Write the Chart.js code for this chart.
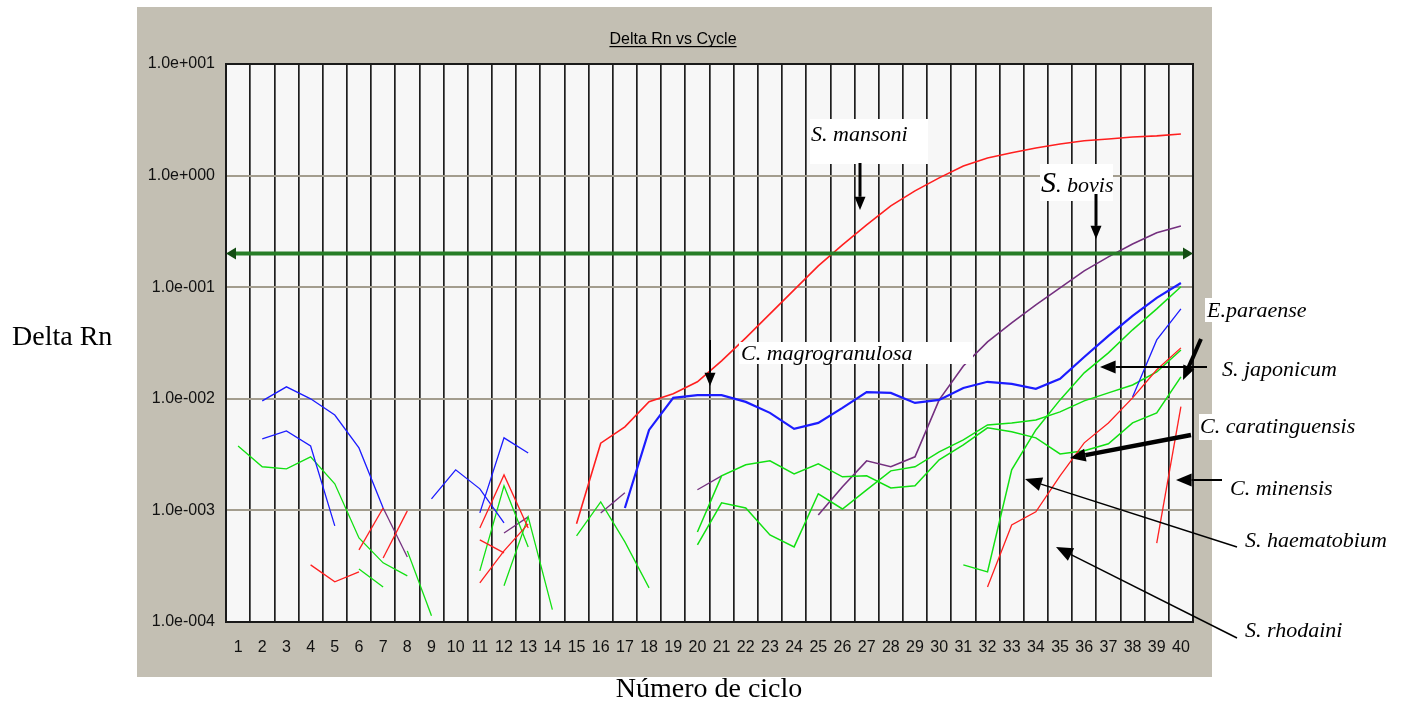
<!DOCTYPE html>
<html>
<head>
<meta charset="utf-8">
<title>Delta Rn vs Cycle</title>
<script src="https://cdn.jsdelivr.net/npm/chart.js@4.4.1/dist/chart.umd.min.js"></script>
<style>
  html, body { margin: 0; padding: 0; background: #fff; }
  #grafica { display: block; }
</style>
</head>
<body>
<canvas id="grafica" width="1406" height="704"></canvas>
<script>
// Ciclos (eje X) y marcas del eje Y
const ciclos = ['1','2','3','4','5','6','7','8','9','10','11','12','13','14','15','16','17','18','19','20',
                '21','22','23','24','25','26','27','28','29','30','31','32','33','34','35','36','37','38','39','40'];
const marcasY = [1e-4, 1e-3, 1e-2, 1e-1, 1e0, 1e1];
const umbral = 0.2;

// Curvas (Delta Rn), cada una empieza en el ciclo indicado en el comentario
// rojas
const sMansoni = [7.6e-4, 4.0e-3, 5.6e-3, 9.4e-3, 1.11e-2, 1.42e-2, 2.19e-2, 3.52e-2, 5.77e-2, 9.46e-2, 0.155, 0.239, 0.361,
                  0.535, 0.729, 0.954, 1.22, 1.44, 1.60, 1.77, 1.92, 2.05, 2.13, 2.22, 2.27, 2.36]; // 15-40
const sRhodaini = [2.06e-4, 7.4e-4, 9.7e-4, 2.04e-3, 4.03e-3, 6.08e-3, 1.02e-2, 1.82e-2, 2.86e-2]; // 32-40
const cMinensis = [5.1e-4, 8.5e-3]; // 39-40
const rojo4 = [3.25e-4, 2.29e-4, 2.81e-4]; // 4-6
const rojo6 = [4.43e-4, 1.05e-3]; // 6-7
const rojo7 = [3.75e-4, 9.9e-4]; // 7-8
const rojo11a = [6.97e-4, 2.08e-3, 6.97e-4]; // 11-13
const rojo11b = [5.44e-4, 4.16e-4]; // 11-12
const rojo11c = [2.24e-4, 4.34e-4, 7.57e-4]; // 11-13
// azules
const cMagrogranulosa = [1.05e-3, 5.26e-3, 1.02e-2, 1.08e-2, 1.08e-2, 9.38e-3, 7.48e-3, 5.37e-3, 6.08e-3, 8.28e-3, 1.15e-2,
                         1.13e-2, 9.18e-3, 9.78e-3, 1.25e-2, 1.42e-2, 1.36e-2, 1.23e-2, 1.51e-2, 2.37e-2, 3.66e-2,
                         5.53e-2, 8.02e-2, 0.109]; // 17-40
const azul2a = [9.58e-3, 1.28e-2, 1.0e-2, 7.16e-3, 3.63e-3, 1.05e-3]; // 2-7
const azul2b = [4.37e-3, 5.16e-3, 3.78e-3, 7.26e-4]; // 2-5
const azul9 = [1.27e-3, 2.31e-3, 1.56e-3, 7.73e-4]; // 9-12
const azul11 = [9.5e-4, 4.47e-3, 3.27e-3]; // 11-13
const azul38 = [1.04e-2, 3.37e-2, 6.4e-2]; // 38-40
// verdes
const eParaense = [6.41e-4, 2.04e-3, 2.56e-3, 2.78e-3, 2.12e-3, 2.61e-3, 2.0e-3, 2.04e-3, 1.59e-3, 1.66e-3, 2.84e-3,
                   3.86e-3, 5.5e-3, 5.06e-3, 4.47e-3, 3.21e-3, 3.42e-3, 3.95e-3, 6.08e-3, 7.48e-3, 1.57e-2]; // 20-40
const cCaratinguensis = [4.9e-4, 1.17e-3, 1.05e-3, 6.03e-4, 4.71e-4, 1.41e-3, 1.03e-3, 1.53e-3, 2.26e-3, 2.46e-3, 3.34e-3,
                         4.28e-3, 5.83e-3, 6.08e-3, 6.47e-3, 7.64e-3, 9.58e-3, 1.13e-2, 1.33e-2, 1.74e-2, 2.74e-2]; // 20-40
const sHaematobium = [3.25e-4, 2.81e-4, 2.31e-3, 5.26e-3, 9.78e-3, 1.71e-2, 2.58e-2, 4.15e-2, 6.4e-2, 0.101]; // 31-40
const verde1 = [3.78e-3, 2.46e-3, 2.36e-3, 3.02e-3, 1.73e-3, 5.67e-4, 3.39e-4, 2.59e-4]; // 1-8
const verde6 = [2.99e-4, 2.06e-4]; // 6-7
const verde8 = [4.34e-4, 1.14e-4]; // 8-9
const verde11 = [2.87e-4, 1.66e-3, 4.71e-4]; // 11-13
const verde12 = [2.11e-4, 8.75e-4, 1.29e-4]; // 12-14
const verde15 = [5.91e-4, 1.19e-3, 5.22e-4, 2.02e-4]; // 15-18
// moradas
const sBovis = [9.1e-4, 1.63e-3, 2.78e-3, 2.46e-3, 3.02e-3, 9.78e-3, 1.97e-2, 3.24e-2, 4.79e-2, 6.94e-2, 9.86e-2,
                0.140, 0.187, 0.244, 0.307, 0.354]; // 25-40
const morado7 = [1.05e-3, 3.83e-4]; // 7-8
const morado12 = [6.28e-4, 8.75e-4]; // 12-13
const morado16 = [9.5e-4, 1.44e-3]; // 16-17
const morado20 = [1.53e-3, 2.04e-3]; // 20-21

const ROJO = '#ff1f1f';
const AZUL = '#1c1cff';
const VERDE = '#12e012';
const MORADO = '#74307f';

const curvas = [
    { valores: sMansoni, inicio: 15, color: ROJO, ancho: 1.6 },
    { valores: sRhodaini, inicio: 32, color: ROJO, ancho: 1.3 },
    { valores: cMinensis, inicio: 39, color: ROJO, ancho: 1.3 },
    { valores: rojo4, inicio: 4, color: ROJO, ancho: 1.3 },
    { valores: rojo6, inicio: 6, color: ROJO, ancho: 1.3 },
    { valores: rojo7, inicio: 7, color: ROJO, ancho: 1.3 },
    { valores: rojo11a, inicio: 11, color: ROJO, ancho: 1.3 },
    { valores: rojo11b, inicio: 11, color: ROJO, ancho: 1.3 },
    { valores: rojo11c, inicio: 11, color: ROJO, ancho: 1.3 },
    { valores: cMagrogranulosa, inicio: 17, color: AZUL, ancho: 2.2 },
    { valores: azul2a, inicio: 2, color: AZUL, ancho: 1.3 },
    { valores: azul2b, inicio: 2, color: AZUL, ancho: 1.3 },
    { valores: azul9, inicio: 9, color: AZUL, ancho: 1.3 },
    { valores: azul11, inicio: 11, color: AZUL, ancho: 1.3 },
    { valores: azul38, inicio: 38, color: AZUL, ancho: 1.3 },
    { valores: eParaense, inicio: 20, color: VERDE, ancho: 1.5 },
    { valores: cCaratinguensis, inicio: 20, color: VERDE, ancho: 1.5 },
    { valores: sHaematobium, inicio: 31, color: VERDE, ancho: 1.5 },
    { valores: verde1, inicio: 1, color: VERDE, ancho: 1.3 },
    { valores: verde6, inicio: 6, color: VERDE, ancho: 1.3 },
    { valores: verde8, inicio: 8, color: VERDE, ancho: 1.3 },
    { valores: verde11, inicio: 11, color: VERDE, ancho: 1.3 },
    { valores: verde12, inicio: 12, color: VERDE, ancho: 1.3 },
    { valores: verde15, inicio: 15, color: VERDE, ancho: 1.3 },
    { valores: sBovis, inicio: 25, color: MORADO, ancho: 1.6 },
    { valores: morado7, inicio: 7, color: MORADO, ancho: 1.3 },
    { valores: morado12, inicio: 12, color: MORADO, ancho: 1.3 },
    { valores: morado16, inicio: 16, color: MORADO, ancho: 1.3 },
    { valores: morado20, inicio: 20, color: MORADO, ancho: 1.3 }
];

// rellena con null los ciclos sin dato
function serie(inicio, valores) {
    const d = ciclos.map(() => null);
    valores.forEach((v, i) => { d[inicio - 1 + i] = v; });
    return d;
}

const datasets = curvas.map(c => ({
    data: serie(c.inicio, c.valores),
    borderColor: c.color,
    borderWidth: c.ancho,
    pointRadius: 0,
    tension: 0,
    spanGaps: false,
    fill: false
}));

// Anotaciones (texto, posición del texto y flecha en píxeles de la página)
const etiquetas = [
    { texto: 'S. mansoni', x: 811, y: 141, caja: [810, 119, 118, 45], flecha: [860, 163, 860, 210], grosor: 3, punta: 11 },
    { texto: 'S. bovis', x: 1041, y: 192, caja: [1040, 164, 73, 37], flecha: [1096, 194, 1096, 239], grosor: 3, punta: 11 },
    { texto: 'C. magrogranulosa', x: 741, y: 360, caja: [739, 342, 234, 22], flecha: [710, 340, 710, 386], grosor: 2, punta: 11 },
    { texto: 'E.paraense', x: 1207, y: 317, caja: [1205, 298, 104, 24], flecha: [1201, 339, 1183, 380], grosor: 4, punta: 12 },
    { texto: 'S. japonicum', x: 1222, y: 376, flecha: [1207, 367, 1100, 367], grosor: 2, punta: 13 },
    { texto: 'C. caratinguensis', x: 1200, y: 433, caja: [1199, 414, 162, 26], flecha: [1191, 435, 1070, 458], grosor: 4.5, punta: 13 },
    { texto: 'C. minensis', x: 1230, y: 495, flecha: [1222, 480, 1176, 480], grosor: 2, punta: 13 },
    { texto: 'S. haematobium', x: 1245, y: 547, flecha: [1237, 547, 1025, 479], grosor: 1.5, punta: 14 },
    { texto: 'S. rhodaini', x: 1245, y: 637, flecha: [1237, 638, 1056, 547], grosor: 1.5, punta: 14 }
];

function flecha(ctx, x1, y1, x2, y2, grosor, punta) {
    const a = Math.atan2(y2 - y1, x2 - x1);
    const largo = punta * 1.2, ancho = punta * 0.5;
    const bx = x2 - largo * Math.cos(a), by = y2 - largo * Math.sin(a);
    ctx.lineWidth = grosor;
    ctx.beginPath();
    ctx.moveTo(x1, y1);
    ctx.lineTo(bx, by);
    ctx.stroke();
    ctx.beginPath();
    ctx.moveTo(x2, y2);
    ctx.lineTo(bx + ancho * Math.sin(a), by - ancho * Math.cos(a));
    ctx.lineTo(bx - ancho * Math.sin(a), by + ancho * Math.cos(a));
    ctx.closePath();
    ctx.fill();
}

const fondo = {
    id: 'fondo',
    beforeDraw(chart) {
        const ctx = chart.ctx, ca = chart.chartArea;
        ctx.save();
        ctx.fillStyle = '#ffffff';
        ctx.fillRect(0, 0, chart.width, chart.height);
        ctx.fillStyle = '#c3bfb3';
        ctx.fillRect(ca.left - 89, 7, ca.right - ca.left + 108, 670);
        ctx.fillStyle = '#f7f7f7';
        ctx.fillRect(ca.left, ca.top, ca.right - ca.left, ca.bottom - ca.top);
        ctx.restore();
    }
};

const umbralPlugin = {
    id: 'umbral',
    afterDatasetsDraw(chart) {
        const ctx = chart.ctx, ca = chart.chartArea;
        const y = chart.scales.y.getPixelForValue(umbral);
        ctx.save();
        // borde del área
        ctx.strokeStyle = '#1a1a1a';
        ctx.lineWidth = 2;
        ctx.strokeRect(ca.left, ca.top, ca.right - ca.left, ca.bottom - ca.top);
        ctx.strokeStyle = '#267d26';
        ctx.lineWidth = 4;
        ctx.beginPath();
        ctx.moveTo(ca.left + 6, y);
        ctx.lineTo(ca.right - 6, y);
        ctx.stroke();
        ctx.fillStyle = '#134d13';
        [[ca.left, -1], [ca.right, 1]].forEach(([x, s]) => {
            ctx.beginPath();
            ctx.moveTo(x, y);
            ctx.lineTo(x - s * 10, y - 6);
            ctx.lineTo(x - s * 10, y + 6);
            ctx.closePath();
            ctx.fill();
        });
        ctx.restore();
    },
    afterDraw(chart) {
        const ctx = chart.ctx;
        ctx.save();
        // título subrayado
        ctx.fillStyle = '#000';
        ctx.font = '16px "Liberation Sans", Arial, sans-serif';
        ctx.textAlign = 'center';
        ctx.textBaseline = 'alphabetic';
        const t = 'Delta Rn vs Cycle';
        const w = ctx.measureText(t).width;
        ctx.fillText(t, 673, 44);
        ctx.fillRect(673 - w / 2, 46, w, 1.2);
        // títulos de ejes
        ctx.font = '28px "Liberation Serif", "Times New Roman", serif';
        ctx.textAlign = 'left';
        ctx.fillText('Delta Rn', 12, 345);
        ctx.textAlign = 'center';
        ctx.fillText('Número de ciclo', 709, 697);
        // anotaciones
        ctx.textAlign = 'left';
        etiquetas.forEach(e => {
            if (e.caja) {
                ctx.fillStyle = '#ffffff';
                ctx.fillRect(e.caja[0], e.caja[1], e.caja[2], e.caja[3]);
            }
            ctx.fillStyle = '#000';
            ctx.font = 'italic 22px "Liberation Serif", "Times New Roman", serif';
            if (e.texto === 'S. bovis') {
                ctx.font = 'italic 30px "Liberation Serif", "Times New Roman", serif';
                ctx.fillText('S', e.x, e.y);
                const ws = ctx.measureText('S').width;
                ctx.font = 'italic 22px "Liberation Serif", "Times New Roman", serif';
                ctx.fillText('. bovis', e.x + ws, e.y);
            } else {
                ctx.fillText(e.texto, e.x, e.y);
            }
            ctx.strokeStyle = '#000';
            const f = e.flecha;
            flecha(ctx, f[0], f[1], f[2], f[3], e.grosor, e.punta);
        });
        ctx.restore();
    }
};

function etiquetaLog(v) {
    const e = Math.round(Math.log10(v));
    return '1.0e' + (e < 0 ? '-' : '+') + String(Math.abs(e)).padStart(3, '0');
}

new Chart(document.getElementById('grafica'), {
    type: 'line',
    data: { labels: ciclos, datasets: datasets },
    options: {
        responsive: false,
        animation: false,
        layout: { padding: { left: 137, right: 213, top: 64, bottom: 32 } },
        plugins: {
            legend: { display: false },
            tooltip: { enabled: false },
            title: { display: false }
        },
        scales: {
            x: {
                type: 'category',
                offset: true,
                grid: { offset: true, color: '#1e1e1e', lineWidth: 1.7, drawTicks: false },
                border: { display: true, color: '#1a1a1a', width: 2 },
                ticks: {
                    color: '#111',
                    autoSkip: false,
                    maxRotation: 0,
                    padding: 16,
                    font: { family: '"Liberation Sans", Arial, sans-serif', size: 16 }
                },
                afterFit(s) { s.height = 50; }
            },
            y: {
                type: 'logarithmic',
                min: 1e-4,
                max: 10,
                afterBuildTicks(s) { s.ticks = marcasY.map(v => ({ value: v })); },
                grid: { color: '#a39d8e', lineWidth: 2, drawTicks: false },
                border: { display: true, color: '#1a1a1a', width: 2 },
                ticks: {
                    color: '#111',
                    padding: 11,
                    callback: v => etiquetaLog(v),
                    font: { family: '"Liberation Sans", Arial, sans-serif', size: 16 }
                },
                afterFit(s) { s.width = 89; }
            }
        }
    },
    plugins: [fondo, umbralPlugin]
});
</script>
</body>
</html>
